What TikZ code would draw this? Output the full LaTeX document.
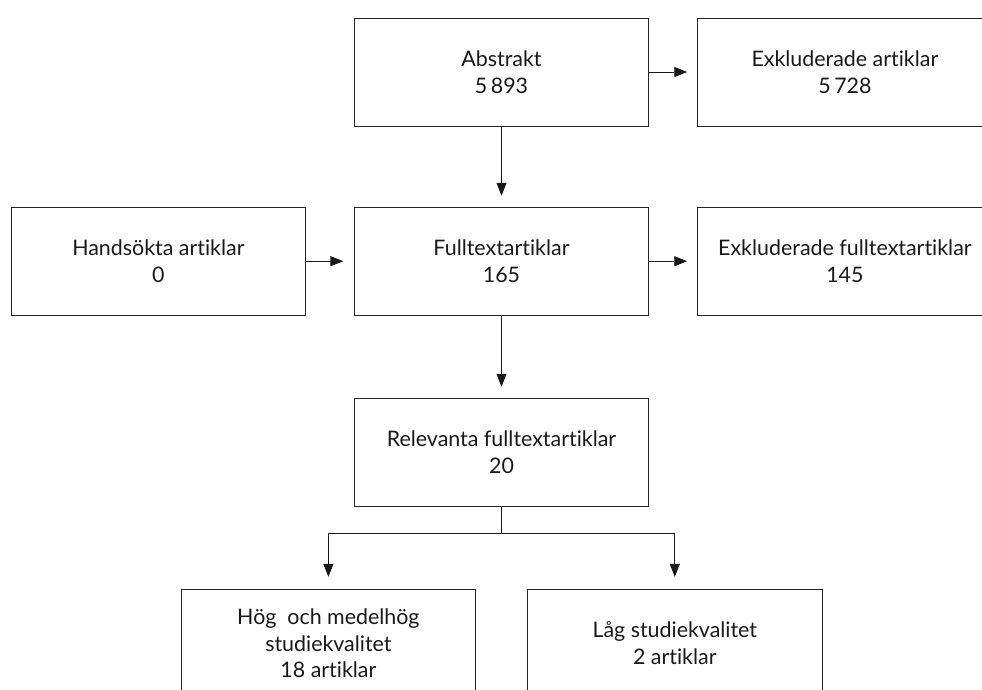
\documentclass[tikz,border=0pt]{standalone}
\usepackage{fontspec}
\setmainfont{Lato}[Ligatures={NoCommon}]
\usetikzlibrary{arrows.meta}
\begin{document}
\begin{tikzpicture}[x=1pt,y=-1pt,
  box/.style={draw=black!85,line width=0.9pt,minimum width=294.4pt,minimum height=108pt,
    align=center,inner sep=0pt,font=\fontsize{21.4}{26.7}\selectfont,text=black!90},
  conn/.style={draw=black!90,line width=0.9pt,-{Triangle[length=13pt,width=10pt]}}]
\useasboundingbox (0,0) rectangle (982,689);
\clip (0,0) rectangle (982,689);
\node[box] (abs) at (501.5,72) {Abstrakt\\5\,893};
\node[box] (exa) at (844.9,72) {Exkluderade artiklar\\5\,728};
\node[box] (hand) at (158.4,261.2) {Handsökta artiklar\\0};
\node[box] (full) at (501.5,261.2) {Fulltextartiklar\\165};
\node[box] (exf) at (844.9,261.2) {Exkluderade fulltextartiklar\\145};
\node[box] (rel) at (501.5,452.2) {Relevanta fulltextartiklar\\20};
\node[box] (hog) at (328.4,643.3) {Hög\ \ och medelhög\\studiekvalitet\\18 artiklar};
\node[box] (lag) at (674.8,643.3) {Låg studiekvalitet\\2 artiklar};
\coordinate (split) at (501.5,533.3);
\draw[conn,shorten >=10pt] (abs.east) -- (exa.west);
\draw[conn,shorten >=10.5pt] (hand.east) -- (full.west);
\draw[conn,shorten >=10pt] (full.east) -- (exf.west);
\draw[conn,shorten >=11pt] (abs.south) -- (full.north);
\draw[conn,shorten >=11pt] (full.south) -- (rel.north);
\draw[draw=black!90,line width=0.9pt] (rel.south) -- (split);
\draw[conn,shorten >=12pt] (split) -| (hog.north);
\draw[conn,shorten >=12pt] (split) -| (lag.north);
\end{tikzpicture}
\end{document}
